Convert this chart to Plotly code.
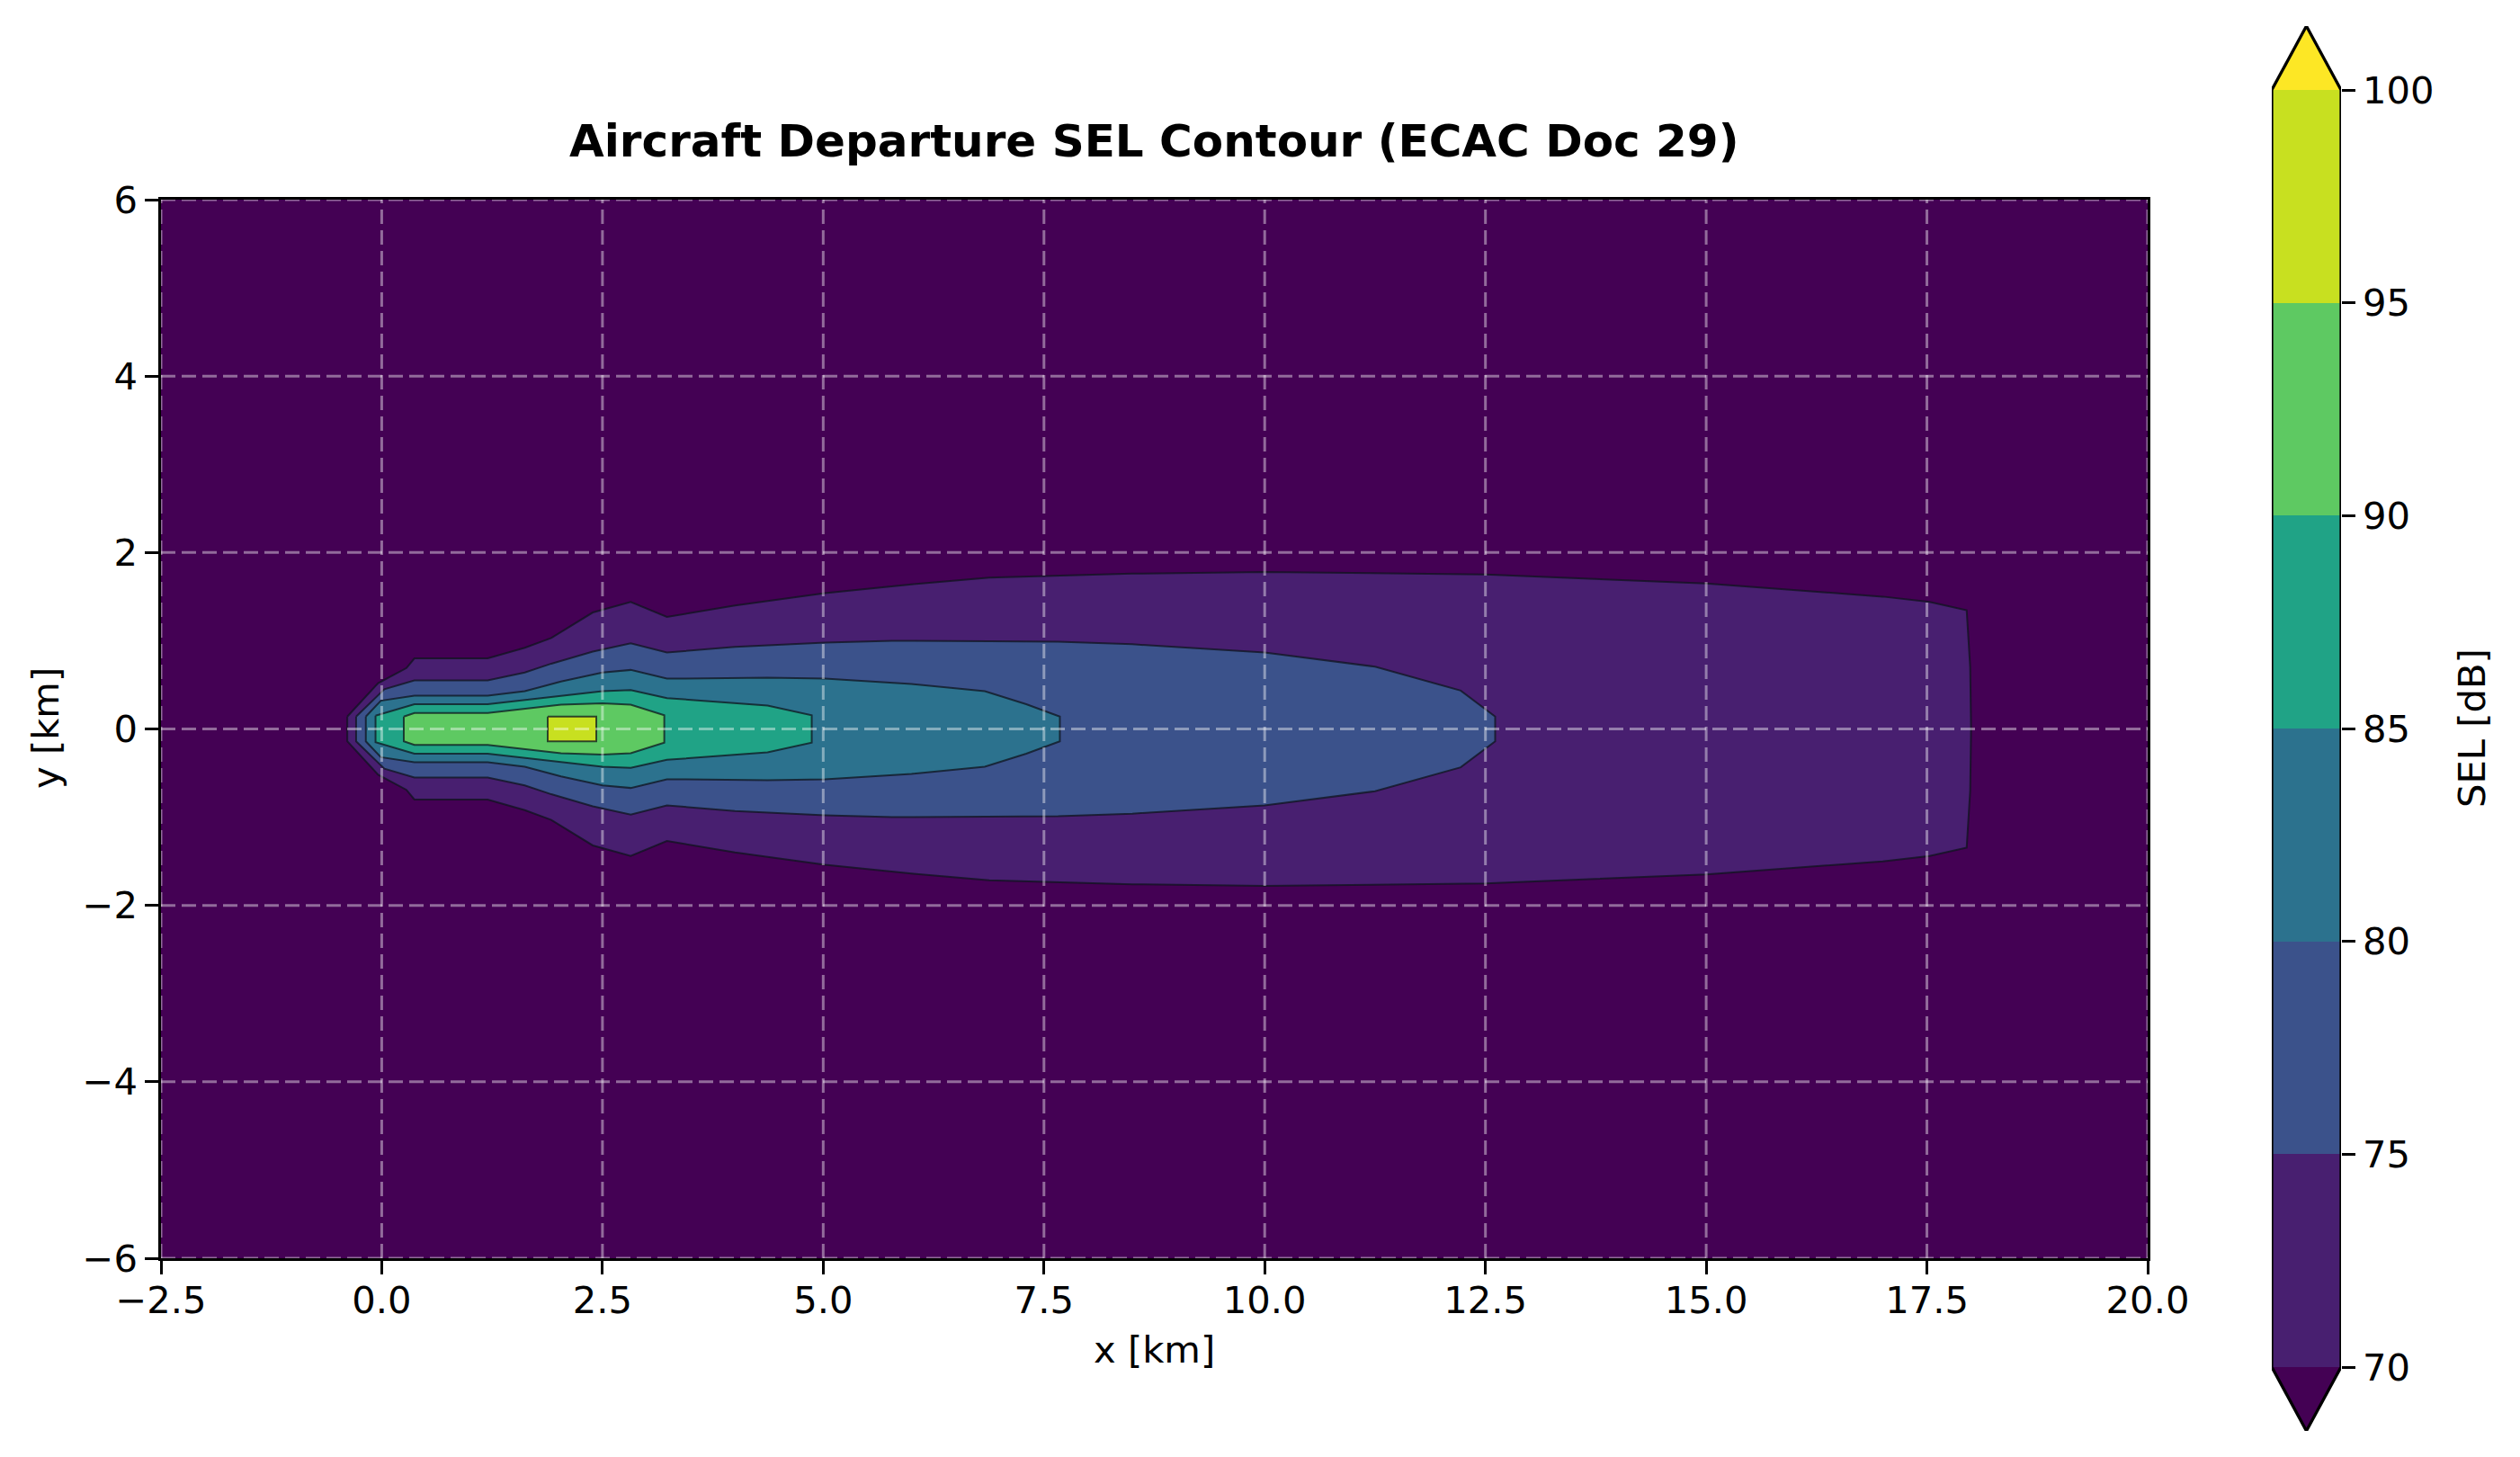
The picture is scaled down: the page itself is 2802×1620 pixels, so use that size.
import plotly.graph_objects as go

# ---------------- data ----------------
levels = [70, 75, 80, 85, 90, 95, 100]
level_colors = ["#481f70", "#3b528b", "#2c728e", "#20a386", "#5ec962", "#c8e020"]
under_color = "#440154"
over_color = "#fde725"

# Contour outlines: x stations [km] and half-width [km] of the region above each level
x70 = [-0.39, -0.04, 0.28, 0.37, 1.20, 1.62, 1.92, 2.39, 2.82, 3.23, 4.0, 5.02, 6.0, 6.88,
       8.5, 10.0, 12.5, 15.0, 17.0, 17.53, 17.95, 17.99, 18.0]
w70 = [0.14, 0.52, 0.69, 0.80, 0.80, 0.92, 1.03, 1.32, 1.44, 1.27, 1.40, 1.54, 1.64, 1.715,
       1.76, 1.78, 1.75, 1.65, 1.50, 1.44, 1.345, 0.70, 0.0]

x75 = [-0.29, 0.03, 0.37, 1.20, 1.62, 1.92, 2.39, 2.82, 3.23, 4.0, 5.02, 5.78, 6.88, 7.66,
       8.5, 10.0, 11.25, 12.22, 12.61]
w75 = [0.14, 0.45, 0.55, 0.55, 0.64, 0.74, 0.876, 0.97, 0.866, 0.93, 0.978, 1.0, 0.995, 0.99,
       0.96, 0.866, 0.706, 0.435, 0.14]

x80 = [-0.18, -0.01, 0.37, 1.20, 1.62, 2.03, 2.50, 2.82, 3.23, 4.37, 5.02, 6.0, 6.83, 7.30, 7.68]
w80 = [0.14, 0.32, 0.377, 0.377, 0.428, 0.537, 0.639, 0.669, 0.57, 0.58, 0.57, 0.51, 0.428, 0.28, 0.14]

x85 = [-0.07, 0.37, 1.20, 2.03, 2.50, 2.82, 3.23, 4.37, 4.87]
w85 = [0.15, 0.28, 0.28, 0.377, 0.428, 0.44, 0.35, 0.265, 0.156]

x90 = [0.25, 0.37, 1.20, 2.03, 2.50, 2.82, 3.20]
w90 = [0.14, 0.18, 0.18, 0.275, 0.29, 0.275, 0.156]

x95 = [1.88, 2.43]
w95 = [0.14, 0.14]

contour_x = [x70, x75, x80, x85, x90, x95]
contour_w = [w70, w75, w80, w85, w90, w95]

x_ticks = [-2.5, 0, 2.5, 5, 7.5, 10, 12.5, 15, 17.5, 20]
x_ticktext = ["\u22122.5", "0.0", "2.5", "5.0", "7.5", "10.0", "12.5", "15.0", "17.5", "20.0"]
y_ticks = [-6, -4, -2, 0, 2, 4, 6]
y_ticktext = ["\u22126", "\u22124", "\u22122", "0", "2", "4", "6"]

title_text = "Aircraft Departure SEL Contour (ECAC Doc 29)"
x_label = "x [km]"
y_label = "y [km]"
cb_label = "SEL [dB]"

# ---------------- figure ----------------
W, H = 2802, 1620
FONT = "DejaVu Sans"
FS = 41.7
LW = 3.3
TL = 14.6

fig = go.Figure()

# region below the lowest level (contourf "under" colour)
fig.add_shape(type="rect", xref="x domain", yref="y domain", x0=0, x1=1, y0=0, y1=1,
              fillcolor=under_color, line=dict(width=0), layer="below")

for xs, ws, col in zip(contour_x, contour_w, level_colors):
    px = list(xs) + list(xs[::-1]) + [xs[0]]
    py = list(ws) + [-v for v in ws[::-1]] + [ws[0]]
    fig.add_trace(go.Scatter(
        x=px, y=py, mode="lines", fill="toself", fillcolor=col,
        line=dict(color="rgba(15,20,30,0.75)", width=2),
        hoverinfo="skip", showlegend=False, xaxis="x", yaxis="y"))

# grid lines above filled contours (dashed, translucent white)
grid_col = "rgba(255,255,255,0.42)"
for xv in x_ticks:
    fig.add_shape(type="line", xref="x", yref="y", x0=xv, x1=xv, y0=y_ticks[0], y1=y_ticks[-1],
                  line=dict(color=grid_col, width=3, dash="16px,7px"), layer="above")
for yv in y_ticks:
    fig.add_shape(type="line", xref="x", yref="y", x0=x_ticks[0], x1=x_ticks[-1], y0=yv, y1=yv,
                  line=dict(color=grid_col, width=3, dash="16px,7px"), layer="above")

# ---------------- colorbar (manual, with extend triangles) ----------------
lo, hi = levels[0], levels[-1]
ext = 0.05 * (hi - lo)
fig.add_trace(go.Bar(
    x=[0] * (len(levels) - 1), y=[b - a for a, b in zip(levels[:-1], levels[1:])],
    base=levels[:-1], width=1, marker=dict(color=level_colors, line=dict(width=0)),
    hoverinfo="skip", showlegend=False, xaxis="x2", yaxis="y2"))
fig.add_trace(go.Scatter(x=[-0.5, 0, 0.5, -0.5], y=[lo, lo - ext, lo, lo], mode="lines",
                         fill="toself", fillcolor=under_color, line=dict(width=0),
                         hoverinfo="skip", showlegend=False, xaxis="x2", yaxis="y2"))
fig.add_trace(go.Scatter(x=[-0.5, 0, 0.5, -0.5], y=[hi, hi + ext, hi, hi], mode="lines",
                         fill="toself", fillcolor=over_color, line=dict(width=0),
                         hoverinfo="skip", showlegend=False, xaxis="x2", yaxis="y2"))
fig.add_trace(go.Scatter(x=[-0.5, -0.5, 0, 0.5, 0.5, 0, -0.5],
                         y=[lo, hi, hi + ext, hi, lo, lo - ext, lo], mode="lines",
                         line=dict(color="black", width=LW),
                         hoverinfo="skip", showlegend=False, xaxis="x2", yaxis="y2"))

ax_x0, ax_x1 = 179, 2388
ax_y0, ax_y1 = 222, 1399
cb_x0, cb_x1 = 2526, 2603
cb_top, cb_bot = 29, 1591

common = dict(ticks="outside", ticklen=TL, tickwidth=LW, tickcolor="black",
              showgrid=False, zeroline=False, automargin=False, tickfont=dict(size=FS))

fig.update_layout(
    width=W, height=H, margin=dict(l=0, r=0, t=0, b=0, autoexpand=False),
    paper_bgcolor="white", plot_bgcolor="white",
    font=dict(family=FONT, size=FS, color="black"),
    barmode="overlay", bargap=0,
    xaxis=dict(domain=[ax_x0 / W, ax_x1 / W], range=[x_ticks[0], x_ticks[-1]],
               tickvals=x_ticks, ticktext=x_ticktext, showline=True, linecolor="black",
               linewidth=LW, mirror=True, anchor="y", ticklabelstandoff=-7, **common),
    yaxis=dict(domain=[1 - ax_y1 / H, 1 - ax_y0 / H], range=[y_ticks[0], y_ticks[-1]],
               tickvals=y_ticks, ticktext=y_ticktext, showline=True, linecolor="black",
               linewidth=LW, mirror=True, anchor="x", **common),
    xaxis2=dict(domain=[cb_x0 / W, cb_x1 / W], range=[-0.5, 0.5], visible=False,
                anchor="y2", fixedrange=True, automargin=False),
    yaxis2=dict(domain=[1 - cb_bot / H, 1 - cb_top / H], range=[lo - ext, hi + ext],
                anchor="x2", side="right", tickvals=levels, showline=False, **common),
)

fig.add_annotation(text="<b>" + title_text + "</b>", xref="paper", yref="paper",
                   x=(ax_x0 + ax_x1) / 2 / W, y=1 - 157 / H, xanchor="center", yanchor="middle",
                   showarrow=False, font=dict(family=FONT, size=50, color="black"))
fig.add_annotation(text=x_label, xref="paper", yref="paper",
                   x=(ax_x0 + ax_x1) / 2 / W, y=1 - 1500 / H, xanchor="center", yanchor="middle",
                   showarrow=False, font=dict(family=FONT, size=FS, color="black"))
fig.add_annotation(text=y_label, xref="paper", yref="paper", textangle=-90,
                   x=50 / W, y=1 - 810 / H, xanchor="center", yanchor="middle",
                   showarrow=False, font=dict(family=FONT, size=FS, color="black"))
fig.add_annotation(text=cb_label, xref="paper", yref="paper", textangle=-90,
                   x=2748 / W, y=1 - 810 / H, xanchor="center", yanchor="middle",
                   showarrow=False, font=dict(family=FONT, size=FS, color="black"))

fig.write_html("out.html")
